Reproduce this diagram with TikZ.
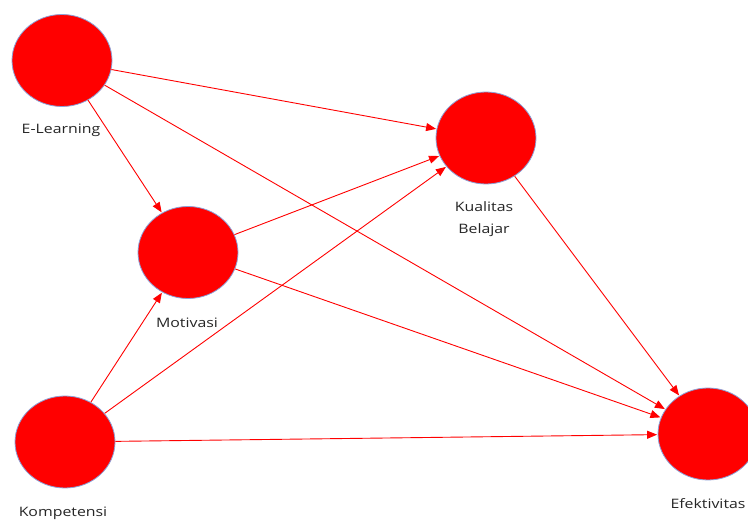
\documentclass[tikz,border=0pt]{standalone}
\usepackage{fontspec}
\setmainfont{Open Sans}[FakeStretch=1.22]
\usetikzlibrary{shapes.geometric,arrows.meta}
\definecolor{rimblue}{RGB}{140,160,215}
\tikzset{
  latent/.style={ellipse, draw=rimblue, line width=0.8pt, fill=red,
    minimum width=100pt, minimum height=92pt, inner sep=0pt},
  caption/.style={font=\fontsize{13}{22}\selectfont, text=black!85, inner sep=0pt, align=center},
  path/.style={draw=red, line width=0.9pt, -{Triangle[length=10pt,width=8pt]}, shorten >=0.5pt}
}
\begin{document}
\begin{tikzpicture}[x=1pt,y=-1pt]
\useasboundingbox (0,0) rectangle (748,521);
\fill[white] (0,0) rectangle (748,521);
% constructs
\node[latent] (el) at (62,60.5) {};
\node[latent] (mo) at (188,252.5) {};
\node[latent] (kb) at (486,138) {};
\node[latent] (ko) at (65,442) {};
\node[latent] (ef) at (708,434) {};
% captions
\node[caption] (elt) at (61,130) {E-Learning};
\node[caption] (mot) at (187,323) {Motivasi};
\node[caption] (kbt) at (484,219) {Kualitas\\Belajar};
\node[caption] (kot) at (63,513) {Kompetensi};
\node[caption] (eft) at (708,504) {Efektivitas};
% structural paths
\draw[path] (el) -- (kb);
\draw[path] (el) -- (ef);
\draw[path] (el) -- (mo);
\draw[path] (mo) -- (kb);
\draw[path] (mo) -- (ef);
\draw[path] (ko) -- (mo);
\draw[path] (ko) -- (kb);
\draw[path] (ko) -- (ef);
\draw[path] (kb) -- (ef);
\end{tikzpicture}
\end{document}
